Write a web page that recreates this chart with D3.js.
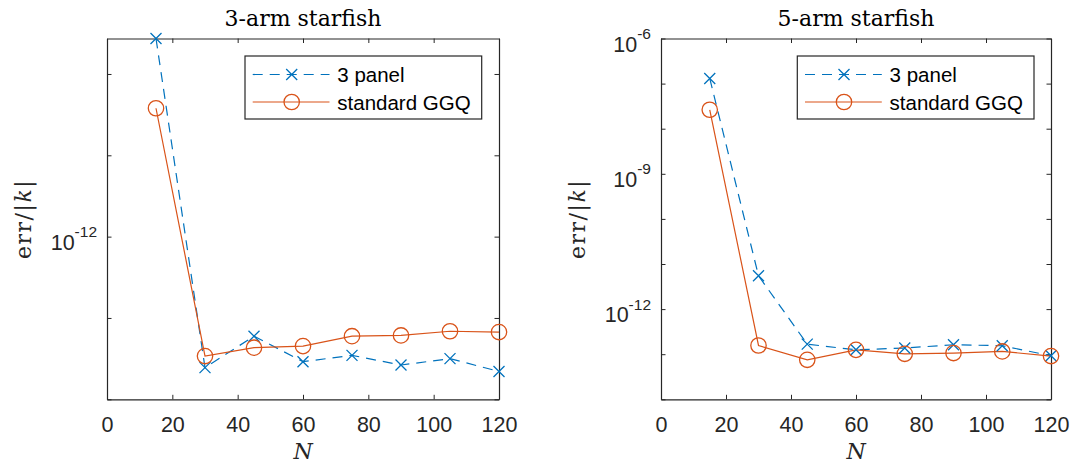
<!DOCTYPE html>
<html>
<head>
<meta charset="utf-8">
<script src="https://cdn.jsdelivr.net/npm/d3@7"></script>
<style>
  html, body { margin: 0; padding: 0; background: #ffffff; }
  svg { display: block; }
</style>
</head>
<body>
<svg id="chart" width="1075" height="464"></svg>
<script>
// ---------------- data ----------------
const N = [15, 30, 45, 60, 75, 90, 105, 120];
const seriesNames = ["3 panel", "standard GGQ"];

// 3-arm starfish
const threeArm_3panel = [2.73e-10, 2.45e-14, 5.97e-14, 2.90e-14, 3.47e-14, 2.64e-14, 3.16e-14, 2.20e-14];
const threeArm_GGQ    = [3.79e-11, 3.40e-14, 4.31e-14, 4.51e-14, 5.97e-14, 6.10e-14, 6.87e-14, 6.71e-14];

// 5-arm starfish
const fiveArm_3panel = [1.30e-7, 5.48e-12, 1.67e-13, 1.25e-13, 1.37e-13, 1.62e-13, 1.54e-13, 9.22e-14];
const fiveArm_GGQ    = [2.63e-8, 1.56e-13, 7.52e-14, 1.25e-13, 1.02e-13, 1.06e-13, 1.15e-13, 9.10e-14];

const xTicks = [0, 20, 40, 60, 80, 100, 120];
const leftYTicks = [1e-14, 1e-13, 1e-12, 1e-11, 1e-10];
const leftYLabels = [1e-12];
const rightYTicks = [1e-14, 1e-13, 1e-12, 1e-11, 1e-10, 1e-9, 1e-8, 1e-7, 1e-6];
const rightYLabels = [1e-12, 1e-9, 1e-6];
const titles = ["3-arm starfish", "5-arm starfish"];

// ---------------- style / layout ----------------
const BLUE = "#0072BD", ORANGE = "#D95319", AX = "#262626";
const SANS = "'Liberation Sans', Arial, Helvetica, sans-serif";
const SERIF = "'DejaVu Serif', serif";
const plotTop = 38.5, plotBottom = 399.3;

const panels = [
  { title: titles[0], x0: 107, x1: 499, yDomain: [1e-14, d3.max(threeArm_3panel)],
    yTicks: leftYTicks, yLabels: leftYLabels, s1: threeArm_3panel, s2: threeArm_GGQ, legX: 245 },
  { title: titles[1], x0: 661, x1: 1051, yDomain: [1e-14, 1e-6],
    yTicks: rightYTicks, yLabels: rightYLabels, s1: fiveArm_3panel, s2: fiveArm_GGQ, legX: 797.3 }
];

const svg = d3.select("#chart");
const TICK = 4.5;

function drawX(g, cx, cy, h, color) {
  g.append("path")
    .attr("d", `M${cx-h},${cy-h}L${cx+h},${cy+h}M${cx-h},${cy+h}L${cx+h},${cy-h}`)
    .attr("stroke", color).attr("stroke-width", 1.3).attr("fill", "none");
}
function drawO(g, cx, cy, r, color) {
  g.append("circle").attr("cx", cx).attr("cy", cy).attr("r", r)
    .attr("stroke", color).attr("stroke-width", 1.3).attr("fill", "none");
}

panels.forEach(p => {
  const x = d3.scaleLinear().domain([0, 120]).range([p.x0, p.x1]);
  const y = d3.scaleLog().domain(p.yDomain).range([plotBottom, plotTop]);
  const g = svg.append("g");

  // axes with inward ticks
  const xb = g.append("g").attr("transform", `translate(0,${plotBottom})`)
    .call(d3.axisBottom(x).tickValues(xTicks).tickSizeInner(-TICK).tickSizeOuter(0).tickPadding(17).tickFormat(d3.format("d")));
  const xt = g.append("g").attr("transform", `translate(0,${plotTop})`)
    .call(d3.axisTop(x).tickValues(xTicks).tickSizeInner(-TICK).tickSizeOuter(0).tickFormat(""));
  const yl = g.append("g").attr("transform", `translate(${p.x0},0)`)
    .call(d3.axisLeft(y).tickValues(p.yTicks).tickSizeInner(-TICK).tickSizeOuter(0).tickFormat(""));
  const yr = g.append("g").attr("transform", `translate(${p.x1},0)`)
    .call(d3.axisRight(y).tickValues(p.yTicks).tickSizeInner(-TICK).tickSizeOuter(0).tickFormat(""));
  [xb, xt, yl, yr].forEach(a => {
    a.select(".domain").attr("stroke", AX).attr("stroke-width", 1.2);
    a.selectAll(".tick line").attr("stroke", AX).attr("stroke-width", 1);
    a.selectAll(".tick text").attr("fill", AX).style("font-family", SANS).style("font-size", "21.5px");
  });

  // y tick labels with superscripts
  p.yLabels.forEach(v => {
    const e = Math.round(Math.log10(v));
    const t = g.append("text")
      .attr("x", p.x0 - 10).attr("y", y(v) + 13)
      .attr("text-anchor", "end").attr("fill", AX)
      .style("font-family", SANS).style("font-size", "21.5px");
    t.append("tspan").text("10");
    t.append("tspan").attr("dy", -12.5).style("font-size", "15.5px").text("-" + Math.abs(e));
  });

  // title
  g.append("text").attr("x", (p.x0 + p.x1) / 2).attr("y", 26).attr("text-anchor", "middle")
    .attr("fill", "#000").style("font-family", SERIF).style("font-size", "22px").text(p.title);

  // x label
  g.append("text").attr("x", (p.x0 + p.x1) / 2).attr("y", 459).attr("text-anchor", "middle")
    .attr("fill", AX).style("font-family", SERIF).style("font-style", "italic").style("font-size", "22px").text("N");

  // y label
  const yLab = g.append("text")
    .attr("transform", `translate(${p.x0 - 76},${(plotTop + plotBottom) / 2}) rotate(-90)`)
    .attr("text-anchor", "middle").attr("fill", AX)
    .style("font-family", SERIF).style("font-size", "22px").style("letter-spacing", "1.5px");
  yLab.append("tspan").text("err/|");
  yLab.append("tspan").style("font-style", "italic").text("k");
  yLab.append("tspan").text("|");

  // lines
  const line = d3.line().x((d, i) => x(N[i])).y(d => y(d));
  g.append("path").datum(p.s1).attr("d", line).attr("fill", "none")
    .attr("stroke", BLUE).attr("stroke-width", 1.2).attr("stroke-dasharray", "10,7");
  g.append("path").datum(p.s2).attr("d", line).attr("fill", "none")
    .attr("stroke", ORANGE).attr("stroke-width", 1.2);
  p.s1.forEach((d, i) => drawX(g, x(N[i]), y(d), 5.5, BLUE));
  p.s2.forEach((d, i) => drawO(g, x(N[i]), y(d), 7.7, ORANGE));

  // legend
  const lx = p.legX, ly = 56, lw = 236.7, lh = 63;
  const lg = g.append("g");
  lg.append("rect").attr("x", lx).attr("y", ly).attr("width", lw).attr("height", lh)
    .attr("fill", "#fff").attr("stroke", AX).attr("stroke-width", 1.2);
  const rows = [ly + 18.5, ly + 46];
  const colors = [BLUE, ORANGE];
  rows.forEach((ry, k) => {
    lg.append("line").attr("x1", lx + 7.7).attr("x2", lx + 84.5).attr("y1", ry).attr("y2", ry)
      .attr("stroke", colors[k]).attr("stroke-width", 1.2)
      .attr("stroke-dasharray", k === 0 ? "10,7" : null);
    if (k === 0) drawX(lg, lx + 46.7, ry, 5.5, BLUE); else drawO(lg, lx + 46.7, ry, 7.7, ORANGE);
    lg.append("text").attr("x", lx + 92.3).attr("y", ry + 7.5).attr("fill", "#000")
      .style("font-family", SANS).style("font-size", "20.5px").text(seriesNames[k]);
  });
});
</script>
</body>
</html>
